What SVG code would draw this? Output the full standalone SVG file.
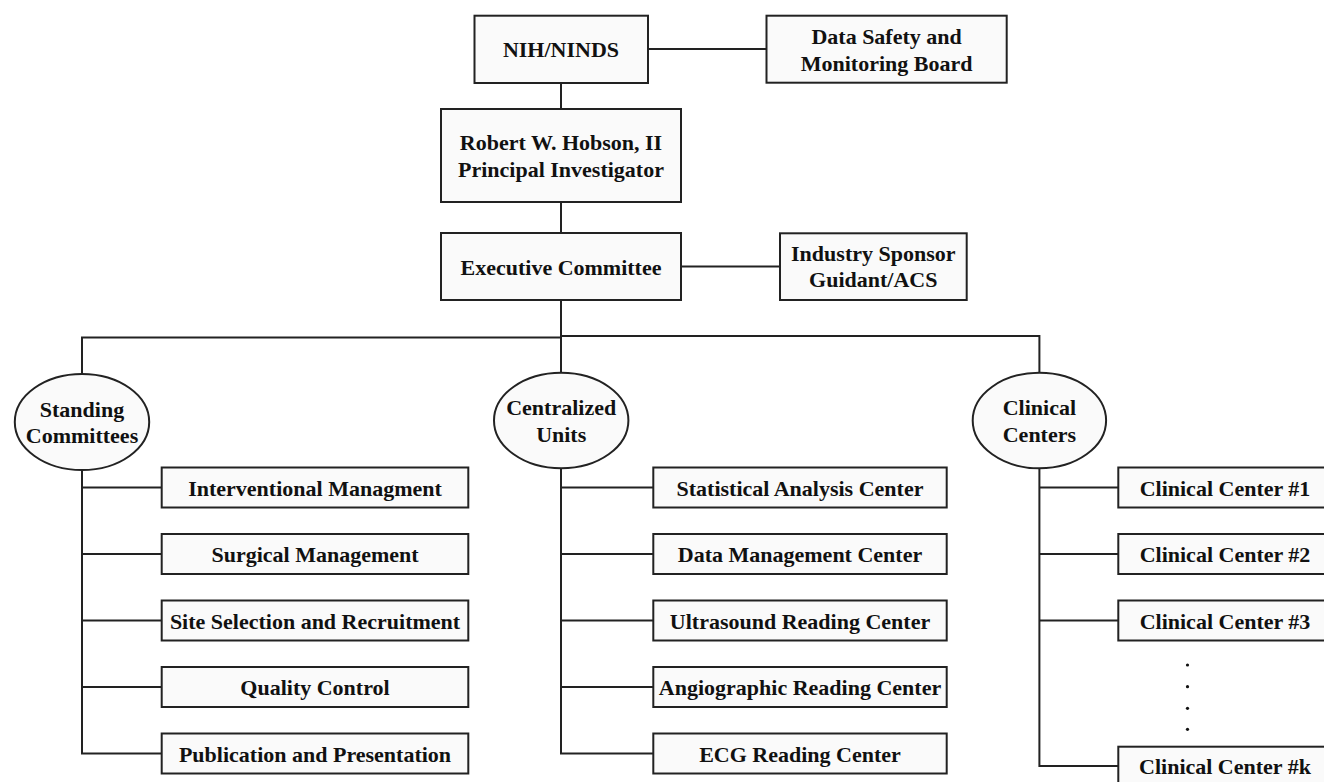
<svg xmlns="http://www.w3.org/2000/svg" width="1324" height="782" viewBox="0 0 1324 782">
<style>
.box{fill:#fafafa;stroke:#222;stroke-width:2}
.ell{fill:#fafafa;stroke:#222;stroke-width:2}
.ln{fill:none;stroke:#222;stroke-width:2}
text{font-family:"Liberation Serif","Times New Roman",serif;font-weight:bold;font-size:22px;fill:#111;text-anchor:middle}
</style>
<rect width="1324" height="782" fill="#ffffff"/>
<g id="connectors">
<line class="ln" x1="648" y1="49" x2="766.5" y2="49"/>
<line class="ln" x1="561" y1="83" x2="561" y2="109"/>
<line class="ln" x1="561" y1="202" x2="561" y2="233"/>
<line class="ln" x1="681" y1="266.5" x2="780" y2="266.5"/>
<line class="ln" x1="561" y1="300" x2="561" y2="372.7"/>
<polyline class="ln" points="82,374 82,337.5 561,337.5"/>
<polyline class="ln" points="561,336 1039.4,336 1039.4,372.7"/>
<polyline class="ln" points="82,470 82,753.5 161.7,753.5"/>
<line class="ln" x1="82" y1="487.5" x2="161.7" y2="487.5"/>
<line class="ln" x1="82" y1="554" x2="161.7" y2="554"/>
<line class="ln" x1="82" y1="620.5" x2="161.7" y2="620.5"/>
<line class="ln" x1="82" y1="687" x2="161.7" y2="687"/>
<polyline class="ln" points="561,468.3 561,753.5 653.3,753.5"/>
<line class="ln" x1="561" y1="487.5" x2="653.3" y2="487.5"/>
<line class="ln" x1="561" y1="554" x2="653.3" y2="554"/>
<line class="ln" x1="561" y1="620.5" x2="653.3" y2="620.5"/>
<line class="ln" x1="561" y1="687" x2="653.3" y2="687"/>
<polyline class="ln" points="1039.4,468.3 1039.4,766 1118.3,766"/>
<line class="ln" x1="1039.4" y1="487.5" x2="1118.3" y2="487.5"/>
<line class="ln" x1="1039.4" y1="554" x2="1118.3" y2="554"/>
<line class="ln" x1="1039.4" y1="620.5" x2="1118.3" y2="620.5"/>
</g>
<g id="nih"><rect class="box" x="474.5" y="15.7" width="173.5" height="67.3"/><text x="561" y="57">NIH/NINDS</text></g>
<g id="dsmb"><rect class="box" x="766.5" y="15.7" width="240.2" height="67"/><text x="886.6" y="44">Data Safety and</text><text x="886.6" y="71">Monitoring Board</text></g>
<g id="pi"><rect class="box" x="441" y="109" width="240" height="93"/><text x="561" y="150">Robert W. Hobson, II</text><text x="561" y="177">Principal Investigator</text></g>
<g id="exec"><rect class="box" x="441" y="233" width="240" height="67"/><text x="561" y="275">Executive Committee</text></g>
<g id="industry"><rect class="box" x="780" y="233.3" width="186.7" height="66.7"/><text x="873.3" y="261">Industry Sponsor</text><text x="873.3" y="287">Guidant/ACS</text></g>
<g id="standing"><ellipse class="ell" cx="82" cy="422" rx="67.2" ry="48"/><text x="82" y="417">Standing</text><text x="82" y="443">Committees</text></g>
<g id="centralized"><ellipse class="ell" cx="561.2" cy="420.5" rx="67.2" ry="47.8"/><text x="561.2" y="415">Centralized</text><text x="561.2" y="441.7">Units</text></g>
<g id="clinical"><ellipse class="ell" cx="1039.4" cy="420.5" rx="66.7" ry="47.8"/><text x="1039.4" y="415">Clinical</text><text x="1039.4" y="441.7">Centers</text></g>
<g id="sc1"><rect class="box" x="161.7" y="467.5" width="306.6" height="40"/><text x="315" y="495.5">Interventional Managment</text></g>
<g id="sc2"><rect class="box" x="161.7" y="534" width="306.6" height="40"/><text x="315" y="562">Surgical Management</text></g>
<g id="sc3"><rect class="box" x="161.7" y="600.5" width="306.6" height="40"/><text x="315" y="628.5">Site Selection and Recruitment</text></g>
<g id="sc4"><rect class="box" x="161.7" y="667" width="306.6" height="40"/><text x="315" y="695">Quality Control</text></g>
<g id="sc5"><rect class="box" x="161.7" y="733.5" width="306.6" height="40"/><text x="315" y="761.5">Publication and Presentation</text></g>
<g id="cu1"><rect class="box" x="653.3" y="467.5" width="293.4" height="40"/><text x="800" y="495.5">Statistical Analysis Center</text></g>
<g id="cu2"><rect class="box" x="653.3" y="534" width="293.4" height="40"/><text x="800" y="562">Data Management Center</text></g>
<g id="cu3"><rect class="box" x="653.3" y="600.5" width="293.4" height="40"/><text x="800" y="628.5">Ultrasound Reading Center</text></g>
<g id="cu4"><rect class="box" x="653.3" y="667" width="293.4" height="40"/><text x="800" y="695">Angiographic Reading Center</text></g>
<g id="cu5"><rect class="box" x="653.3" y="733.5" width="293.4" height="40"/><text x="800" y="761.5">ECG Reading Center</text></g>
<g id="cc1"><rect class="box" x="1118.3" y="467.5" width="214" height="40"/><text x="1225" y="495.5">Clinical Center #1</text></g>
<g id="cc2"><rect class="box" x="1118.3" y="534" width="214" height="40"/><text x="1225" y="562">Clinical Center #2</text></g>
<g id="cc3"><rect class="box" x="1118.3" y="600.5" width="214" height="40"/><text x="1225" y="628.5">Clinical Center #3</text></g>
<g id="dots" fill="#111"><circle cx="1187.5" cy="665" r="1.6"/><circle cx="1187.5" cy="686.7" r="1.6"/><circle cx="1187.5" cy="708.3" r="1.6"/><circle cx="1187.5" cy="729.3" r="1.6"/></g>
<g id="cck"><rect class="box" x="1118.3" y="746.7" width="214" height="40"/><text x="1225" y="774">Clinical Center #k</text></g>
</svg>
